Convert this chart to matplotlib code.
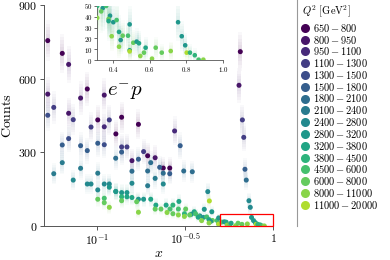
import numpy as np
import matplotlib
matplotlib.use("Agg")
import matplotlib.pyplot as plt
from matplotlib.lines import Line2D
from matplotlib.patches import Rectangle

plt.rcParams['mathtext.fontset'] = 'cm'
plt.rcParams['font.family'] = 'DejaVu Serif'

q2_labels = ['650', '800', '950', '1100', '1300', '1500', '1800', '2100', '2400',
             '2800', '3200', '3800', '4500', '6000', '8000', '11000', '20000']

# bjorken x, event counts, Q^2 bin index
x_vals = [0.0525, 0.0635, 0.0690, 0.0525, 0.0690, 0.0807, 0.0881, 0.1100, 0.1010, 0.1100,
          0.1380, 0.1280, 0.1720, 0.1580, 0.1940, 0.2140, 0.2380, 0.2590, 0.6520, 0.6410,
          0.2760, 0.0568, 0.0733, 0.0925, 0.1175, 0.0525, 0.1380, 0.1480, 0.1840, 0.6700,
          0.6820, 0.0635, 0.0690, 0.0807, 0.0881, 0.1010, 0.1100, 0.1277, 0.1380, 0.2970,
          0.1720, 0.2020, 0.2270, 0.3110, 0.3480, 0.1940, 0.1580, 0.6930, 0.7050, 0.2590,
          0.2380, 0.0635, 0.0568, 0.0733, 0.0807, 0.0881, 0.0925, 0.1010, 0.1010, 0.1100,
          0.1175, 0.1175, 0.1277, 0.2140, 0.1940, 0.1580, 0.2380, 0.1280, 0.1380, 0.1480,
          0.1380, 0.1480, 0.1580, 0.1720, 0.1840, 0.2020, 0.4260, 0.4070, 0.4490, 0.7300,
          0.7430, 0.1100, 0.1010, 0.1100, 0.1175, 0.1380, 0.1720, 0.1680, 0.2160, 0.2470,
          0.2700, 0.2920, 0.2140, 0.2310, 0.2600, 0.2900, 0.3190, 0.3570, 0.4350, 0.2700,
          0.2900, 0.2500,
          0.314, 0.344, 0.363, 0.314, 0.336, 0.384, 0.376, 0.376, 0.402, 0.420,
          0.393, 0.433, 0.453, 0.442, 0.433, 0.482, 0.491, 0.491, 0.491, 0.511,
          0.529, 0.542, 0.549, 0.569, 0.578, 0.613, 0.633, 0.666, 0.715, 0.755,
          0.775, 0.794, 0.802, 0.820, 0.846, 0.867, 0.893]
counts = [755, 703, 658, 537, 459, 521, 558, 533, 432, 404,
          443, 375, 414, 266, 286, 278, 236, 236, 710, 573,
          387, 483, 433, 403, 432, 451, 322, 322, 303, 432,
          361, 330, 356, 327, 307, 337, 331, 276, 301, 327,
          272, 258, 239, 224, 221, 224, 223, 231, 187, 213,
          215, 258, 213, 187, 235, 171, 171, 215, 147, 171,
          171, 158, 141, 194, 164, 174, 171, 140, 136, 136,
          119, 119, 116, 109, 109, 109, 140, 68, 58, 103,
          76, 113, 109, 95, 76, 103, 56, 99, 85, 85,
          85, 100, 69, 69, 69, 69, 69, 58, 102, 50,
          45, 55,
          50, 48, 50, 39, 45, 41, 38, 36, 35, 37,
          22, 26, 22.5, 18.5, 12.3, 22.5, 33, 9, 8, 16,
          17, 15.5, 3.7, 6.8, 11.4, 1.2, 11.4, 6.8, 8.3, 35,
          22, 13.6, 6.8, 6.8, 4.4, 0.3, 0.3]
q2_bin = [0, 0, 1, 1, 1, 1, 0, 1, 0, 2,
          0, 0, 0, 1, 0, 1, 0, 0, 0, 1,
          2, 3, 3, 3, 3, 4, 3, 3, 3, 3,
          3, 5, 4, 5, 5, 5, 4, 6, 5, 5,
          5, 6, 5, 6, 6, 6, 6, 5, 6, 5,
          6, 7, 7, 8, 7, 8, 8, 7, 8, 8,
          8, 9, 10, 7, 7, 8, 8, 9, 9, 9,
          11, 10, 10, 9, 9, 10, 8, 9, 9, 8,
          8, 12, 13, 13, 14, 13, 14, 13, 10, 10,
          11, 10, 13, 13, 12, 12, 13, 10, 15, 13,
          14, 14,
          11, 9, 12, 14, 13, 9, 13, 10, 9, 12,
          14, 10, 13, 9, 14, 12, 9, 10, 15, 13,
          9, 10, 14, 13, 10, 14, 13, 13, 14, 9,
          9, 9, 15, 11, 11, 12, 14]

x_vals = np.array(x_vals)
counts = np.array(counts, dtype=float)
q2_bin = np.array(q2_bin)
palette = plt.cm.viridis(np.linspace(0, 0.88, 16))


def draw_points(ax, xs, ys, bins, size):
    # faded vertical bands, roughly +-3 sigma poisson
    sig = np.sqrt(np.maximum(ys, 1))
    for k in np.linspace(0.5, 3.0, 6):
        ax.vlines(xs, ys - k * sig, ys + k * sig, colors=palette[bins], alpha=0.028, lw=2.8, zorder=1)
    ax.scatter(xs, ys, s=size, c=palette[bins], edgecolors='none', zorder=3)


fig = plt.figure(figsize=(3.9, 2.6), dpi=100)
ax = fig.add_axes([44 / 390, 34 / 260, 229 / 390, 221 / 260])
draw_points(ax, x_vals, counts, q2_bin, 13)
ax.set_xscale('log')
ax.set_xlim(0.05, 1.0)
ax.set_ylim(0, 900)
ax.set_yticks([0, 300, 600, 900])
ax.set_yticklabels([r'$0$', r'$300$', r'$600$', r'$900$'])
ax.set_xticks([0.1, 10 ** -0.5, 1.0])
ax.set_xticklabels([r'$10^{-1}$', r'$10^{-0.5}$', r'$1$'])
ax.minorticks_off()
ax.tick_params(labelsize=8.5, length=3, width=0.7, color='#555555', pad=1.5)
for s in ['top', 'right']:
    ax.spines[s].set_visible(False)
for s in ['left', 'bottom']:
    ax.spines[s].set_color('#555555')
    ax.spines[s].set_linewidth(0.7)
ax.set_ylabel(r'$\mathrm{Counts}$', fontsize=10, labelpad=3)
ax.set_xlabel(r'$x$', fontsize=10, labelpad=-1)
ax.text(0.275, 0.59, r'$e^{-}p$', transform=ax.transAxes, fontsize=15)
ax.add_patch(Rectangle((0.5, 0), 0.5, 50, fill=False, edgecolor='red', lw=0.9, zorder=4, clip_on=False))

# zoomed inset of the high x region
axin = fig.add_axes([97 / 390, 200 / 260, 126 / 390, 54 / 260])
sel = (x_vals >= 0.31) & (counts <= 52)
draw_points(axin, x_vals[sel], counts[sel], q2_bin[sel], 11)
axin.set_xlim(0.313, 1.0)
axin.set_ylim(0, 50)
axin.set_xticks([0.4, 0.6, 0.8, 1.0])
axin.set_xticklabels([r'$0.4$', r'$0.6$', r'$0.8$', r'$1.0$'])
axin.set_yticks([0, 10, 20, 30, 40, 50])
axin.set_yticklabels([r'$%d$' % v for v in [0, 10, 20, 30, 40, 50]])
axin.tick_params(labelsize=5, length=2, width=0.6, color='#555555', pad=1.5)
for s in ['top', 'right']:
    axin.spines[s].set_visible(False)
for s in ['left', 'bottom']:
    axin.spines[s].set_color('#555555')
    axin.spines[s].set_linewidth(0.6)
axin.patch.set_alpha(0)

# legend, laid out by hand so the row pitch matches
W, H = 390.0, 260.0
fig.text(302 / W, 1 - 12 / H, r'$Q^2\ [\mathrm{GeV}^2]$', fontsize=7.5, va='center', ha='left')
for i in range(16):
    yy = 1 - (27.7 + 11.8 * i) / H
    fig.add_artist(Line2D([305 / W], [yy], ls='none', marker='o', ms=6.5, mec='none', mfc=palette[i]))
    fig.text(313 / W, yy, r'$%s - %s$' % (q2_labels[i], q2_labels[i + 1]),
             fontsize=7.5, va='center', ha='left')
fig.add_artist(Line2D([297 / W, 297 / W], [34 / H, 1.0], color='#999999', lw=0.8))

plt.savefig('out.png', dpi=100)
